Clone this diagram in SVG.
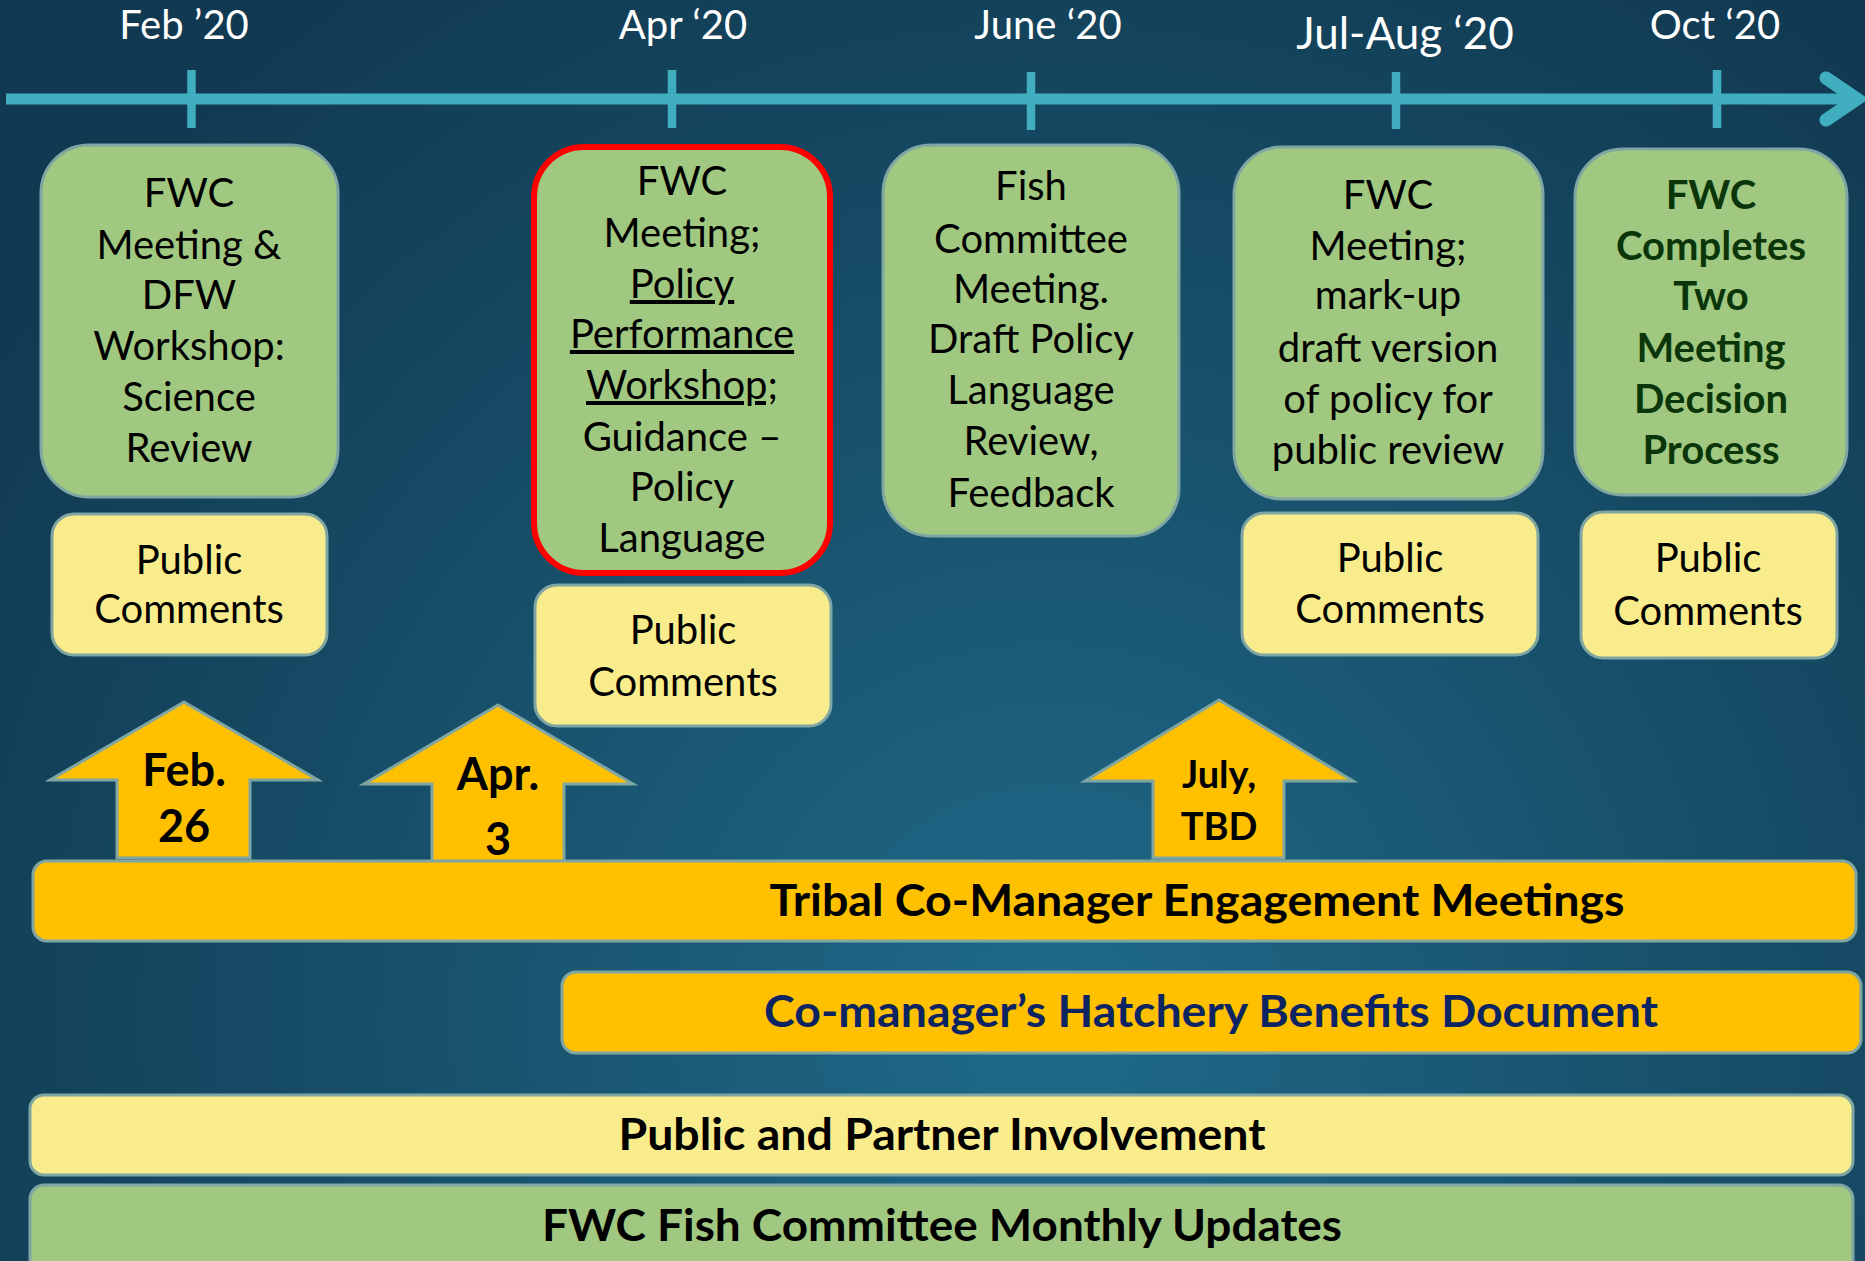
<svg xmlns="http://www.w3.org/2000/svg" width="1865" height="1261" viewBox="0 0 1865 1261">
<defs>
<radialGradient id="bg" cx="1050" cy="1020" r="1250" gradientUnits="userSpaceOnUse">
<stop offset="0" stop-color="#1F6A8A"/>
<stop offset="0.55" stop-color="#174E68"/>
<stop offset="1" stop-color="#113A52"/>
</radialGradient>
<style>
text{font-family:Lato,"Open Sans","Liberation Sans",sans-serif;text-anchor:middle}
.month{fill:#FFFFFF;font-size:40px}
.box{font-size:40px;fill:#000000}
.bold{font-weight:bold}
.green{fill:#A0C880;stroke:#7FA6A3;stroke-width:3}
.yellow{fill:#F9EC8C;stroke:#7FA6A3;stroke-width:3}
.gold{fill:#FFC000;stroke:#7FA6A3;stroke-width:3}
.axis{stroke:#41AEBF;stroke-width:11;fill:none}
.tick{stroke:#41AEBF;stroke-width:8.5}
.u{text-decoration:underline}
</style>
</defs>
<rect x="0" y="0" width="1865" height="1261" fill="url(#bg)"/>

<g id="timeline">
<line class="axis" x1="6" y1="99" x2="1852" y2="99"/>
<polyline class="axis" points="1826,78 1857,99 1826,120" style="stroke-width:13" stroke-linecap="round" stroke-linejoin="miter"/>
<line class="tick" x1="191.5" y1="70" x2="191.5" y2="128"/>
<line class="tick" x1="672" y1="70" x2="672" y2="128"/>
<line class="tick" x1="1031" y1="72" x2="1031" y2="130"/>
<line class="tick" x1="1396" y1="72" x2="1396" y2="129"/>
<line class="tick" x1="1717" y1="70" x2="1717" y2="128"/>
<text class="month" x="184" y="39">Feb ’20</text>
<text class="month" x="683" y="39">Apr ‘20</text>
<text class="month" x="1048" y="39">June ‘20</text>
<text class="month" x="1405" y="49" style="font-size:44px">Jul-Aug ‘20</text>
<text class="month" x="1715" y="39">Oct ‘20</text>
</g>

<g id="box-feb">
<rect class="green" x="41" y="145" width="297" height="352" rx="48"/>
<text class="box" x="189"><tspan x="189" y="207">FWC</tspan><tspan x="189" y="259">Meeting &amp;</tspan><tspan x="189" y="309">DFW</tspan><tspan x="189" y="360">Workshop:</tspan><tspan x="189" y="411">Science</tspan><tspan x="189" y="462">Review</tspan></text>
</g>

<g id="box-apr">
<rect x="534" y="147" width="296" height="426" rx="50" fill="#A0C880" stroke="#FF0000" stroke-width="6"/>
<text class="box" x="682"><tspan x="682" y="195">FWC</tspan><tspan x="682" y="247">Meeting;</tspan></text>
<text class="box u" x="682" y="298">Policy</text>
<text class="box u" x="682" y="348">Performance</text>
<text class="box u" x="682" y="399">Workshop;</text>
<text class="box" x="682"><tspan x="682" y="451">Guidance –</tspan><tspan x="682" y="501">Policy</tspan><tspan x="682" y="552">Language</tspan></text>
</g>

<g id="box-june">
<rect class="green" x="883" y="145" width="296" height="391" rx="48"/>
<text class="box" x="1031"><tspan x="1031" y="200">Fish</tspan><tspan x="1031" y="253">Committee</tspan><tspan x="1031" y="303">Meeting.</tspan><tspan x="1031" y="353">Draft Policy</tspan><tspan x="1031" y="404">Language</tspan><tspan x="1031" y="455">Review,</tspan><tspan x="1031" y="507">Feedback</tspan></text>
</g>

<g id="box-julaug">
<rect class="green" x="1234" y="147" width="309" height="352" rx="48"/>
<text class="box" x="1388"><tspan x="1388" y="209">FWC</tspan><tspan x="1388" y="260">Meeting;</tspan><tspan x="1388" y="309">mark-up</tspan><tspan x="1388" y="362">draft version</tspan><tspan x="1388" y="413">of policy for</tspan><tspan x="1388" y="464">public review</tspan></text>
</g>

<g id="box-oct">
<rect class="green" x="1575" y="149" width="272" height="346" rx="48"/>
<text class="box bold" x="1711" style="fill:#0A360A"><tspan x="1711" y="209">FWC</tspan><tspan x="1711" y="260">Completes</tspan><tspan x="1711" y="310">Two</tspan><tspan x="1711" y="362">Meeting</tspan><tspan x="1711" y="413">Decision</tspan><tspan x="1711" y="464">Process</tspan></text>
</g>

<g id="pc-feb">
<rect class="yellow" x="52" y="514" width="275" height="141" rx="22"/>
<text class="box"><tspan x="189" y="574">Public</tspan><tspan x="189" y="623">Comments</tspan></text>
</g>
<g id="pc-apr">
<rect class="yellow" x="535" y="585" width="296" height="141" rx="22"/>
<text class="box"><tspan x="683" y="644">Public</tspan><tspan x="683" y="696">Comments</tspan></text>
</g>
<g id="pc-julaug">
<rect class="yellow" x="1242" y="513" width="296" height="142" rx="22"/>
<text class="box"><tspan x="1390" y="572">Public</tspan><tspan x="1390" y="623">Comments</tspan></text>
</g>
<g id="pc-oct">
<rect class="yellow" x="1581" y="512" width="256" height="146" rx="22"/>
<text class="box"><tspan x="1708" y="572">Public</tspan><tspan x="1708" y="625">Comments</tspan></text>
</g>

<g id="arrow-feb">
<polygon class="gold" points="184,702 318,780 250,780 250,858 117,858 117,780 50,780"/>
<text class="box bold" style="font-size:45px"><tspan x="184" y="786">Feb.</tspan><tspan x="184" y="842">26</tspan></text>
</g>
<g id="arrow-apr">
<polygon class="gold" points="498,705 633,784 564,784 564,862 432,862 432,784 364,784"/>
<text class="box bold" style="font-size:45px"><tspan x="498" y="790">Apr.</tspan><tspan x="498" y="855">3</tspan></text>
</g>
<g id="arrow-jul">
<polygon class="gold" points="1219,700 1353,781 1284,781 1284,858 1153,858 1153,781 1085,781"/>
<text class="box bold" style="font-size:38px"><tspan x="1219" y="788">July,</tspan><tspan x="1219" y="840">TBD</tspan></text>
</g>

<g id="bar-tribal">
<rect class="gold" x="33" y="861" width="1823" height="80" rx="14"/>
<text class="bold" x="1197" y="916" font-size="44" fill="#000000" textLength="855" lengthAdjust="spacingAndGlyphs">Tribal Co-Manager Engagement Meetings</text>
</g>
<g id="bar-hatchery">
<rect class="gold" x="562" y="972" width="1299" height="81" rx="14"/>
<text class="bold" x="1211" y="1027" font-size="44" fill="#0C2461" textLength="894" lengthAdjust="spacingAndGlyphs">Co-manager’s Hatchery Benefits Document</text>
</g>
<g id="bar-public">
<rect class="yellow" x="30" y="1095" width="1823" height="80" rx="14"/>
<text class="bold" x="942" y="1150" font-size="44" fill="#000000" textLength="647" lengthAdjust="spacingAndGlyphs">Public and Partner Involvement</text>
</g>
<g id="bar-fwc">
<rect class="green" x="30" y="1185" width="1823" height="100" rx="14"/>
<text class="bold" x="942" y="1241" font-size="44" fill="#000000" textLength="800" lengthAdjust="spacingAndGlyphs">FWC Fish Committee Monthly Updates</text>
</g>
</svg>
